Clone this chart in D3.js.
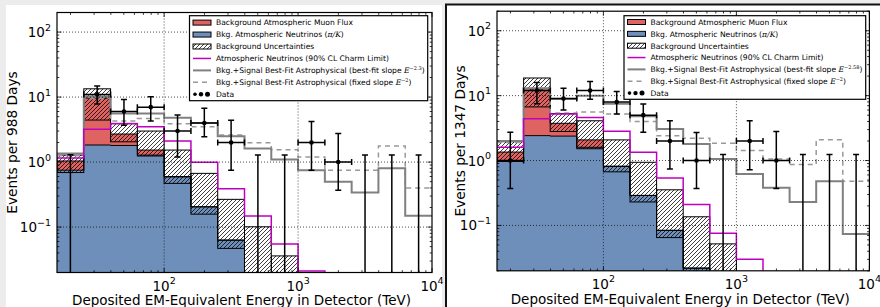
<!DOCTYPE html>
<html>
<head>
<meta charset="utf-8">
<script src="https://cdn.jsdelivr.net/npm/d3@7"></script>
<style>
body { margin: 0; background: #ececec; }
svg { display: block; font-family: "DejaVu Sans", sans-serif; }
</style>
</head>
<body>
<svg id="chart" width="880" height="307"></svg>
<script>
// energy bin edges (TeV), 0.2 decades wide
var binEdges = [15.85, 25.12, 39.81, 63.10, 100, 158.5, 251.2, 398.1, 631.0, 1000, 1585, 2512, 3981, 6310, 10000];
var xMajor = [100, 1000, 10000];
var yMajor = [0.1, 1, 10, 100];

// --- 988 days ---
var nu988     = [0.75, 1.83, 1.80, 1.28, 0.59, 0.205, 0.063, 0.012, 0.004, 0, 0, 0, 0, 0];
var mu988     = [0.29, 7.82, 0.90, 0.25, 0.01, 0, 0, 0, 0, 0, 0, 0, 0, 0];
var uncLo988  = [0.69, 4.43, 2.05, 1.24, 0.47, 0.158, 0.047, 0.008, 0.003, 0, 0, 0, 0, 0];
var uncHi988  = [1.28, 13.4, 3.94, 3.0, 1.53, 0.67, 0.267, 0.101, 0.036, 0, 0, 0, 0, 0];
var charm988  = [1.15, 3.2, 3.9, 3.5, 2.1, 0.99, 0.39, 0.148, 0.055, 0.021, 0, 0, 0, 0];
var fit988    = [1.36, 10.2, 5.6, 5.6, 4.8, 4.0, 2.5, 1.62, 1.1, 0.75, 0.50, 0.34, 0.80, 0.149];
var fixed988  = [1.25, 9.5, 4.3, 4.7, 3.9, 3.5, 2.6, 1.98, 1.55, 1.2, 0.75, 0.75, 1.76, 0.40];
var data988   = [0, 11, 6, 7, 3, 4, 2, 0, 0, 2, 1, 0, 0, 0];
var errHi988  = [1.3, 14.8, 9.2, 10.1, 5.3, 6.7, 4.4, 1.28, 1.28, 4.2, 2.76, 1.28, 1.28, 1.28];
var errLo988  = [0, 7.8, 3.7, 4.3, 1.2, 2.45, 0.75, 0, 0, 0.75, 0.37, 0, 0, 0];

// --- 1347 days ---
var nu1347    = [0.98, 2.42, 2.38, 1.6, 0.81, 0.29, 0.084, 0.022, 0.008, 0, 0, 0, 0, 0];
var mu1347    = [0.37, 10.2, 1.37, 0.48, 0.01, 0, 0, 0, 0, 0, 0, 0, 0, 0];
var uncLo1347 = [0.97, 6.7, 2.8, 1.52, 0.67, 0.23, 0.065, 0.019, 0.006, 0, 0, 0, 0, 0];
var uncHi1347 = [1.95, 18.7, 5.3, 4.1, 2.08, 0.94, 0.354, 0.136, 0.052, 0, 0, 0, 0, 0];
var charm1347 = [1.6, 4.4, 5.2, 4.6, 2.82, 1.34, 0.54, 0.21, 0.076, 0.030, 0, 0, 0, 0];
var fit1347   = [2.0, 13, 8.9, 10, 7.5, 4.8, 3.07, 1.8, 1.06, 0.62, 0.38, 0.23, 0.48, 0.074];
var fixed1347 = [1.9, 12.5, 5.4, 5.6, 5.2, 4.0, 2.4, 2.2, 1.85, 1.43, 1.06, 0.87, 2.1, 0.48];
var data1347  = [1, 12, 9, 12, 8, 5, 2, 1, 0, 2, 1, 0, 0, 0];
var errHi1347 = [2.73, 16, 13, 16.5, 11.6, 7.45, 4.1, 2.7, 1.24, 4.1, 2.8, 1.24, 1.24, 1.24];
var errLo1347 = [0.37, 7.5, 6.0, 8.8, 5.2, 2.73, 0.74, 0.37, 0, 0.72, 0.37, 0, 0, 0];

var legend988 = [
  "Background Atmospheric Muon Flux",
  "Bkg. Atmospheric Neutrinos (π/K)",
  "Background Uncertainties",
  "Atmospheric Neutrinos (90% CL Charm Limit)",
  "Bkg.+Signal Best-Fit Astrophysical (best-fit slope E^{−2.3})",
  "Bkg.+Signal Best-Fit Astrophysical (fixed slope E^{−2})",
  "Data"
];
var legend1347 = [
  "Background Atmospheric Muon Flux",
  "Bkg. Atmospheric Neutrinos (π/K)",
  "Background Uncertainties",
  "Atmospheric Neutrinos (90% CL Charm Limit)",
  "Bkg.+Signal Best-Fit Astrophysical (best-fit slope E^{−2.58})",
  "Bkg.+Signal Best-Fit Astrophysical (fixed slope E^{−2})",
  "Data"
];

var BLUE = "#6e8fba", RED = "#df6461", MAG = "#bf00bf";

var svg = d3.select("#chart");
var defs = svg.append("defs");
defs.append("pattern")
  .attr("id", "hatch")
  .attr("patternUnits", "userSpaceOnUse")
  .attr("width", 4).attr("height", 4)
  .append("path")
  .attr("d", "M-1,1 l2,-2 M0,4 l4,-4 M3,5 l2,-2")
  .attr("stroke", "#000").attr("stroke-width", 0.75);

// figure backgrounds
svg.append("rect").attr("width", 880).attr("height", 307).attr("fill", "#ececec");
svg.append("rect").attr("x", 6).attr("y", 5).attr("width", 436).attr("height", 302).attr("fill", "#fff");
svg.append("rect").attr("x", 445).attr("y", 3.5).attr("width", 435).attr("height", 304).attr("fill", "#111");
svg.append("rect").attr("x", 447).attr("y", 5.5).attr("width", 433).attr("height", 302).attr("fill", "#fff");

function richText(sel, str) {
  var parts = str.split(/(E\^\{[^}]*\}|π\/K)/);
  var pendingDy = 0;
  parts.forEach(function(part) {
    if (!part) return;
    var t;
    if (part === "π/K") {
      t = sel.append("tspan").attr("font-family", "DejaVu Serif").attr("font-style", "italic").text(part);
    } else if (part.indexOf("E^") === 0) {
      sel.append("tspan").attr("font-family", "DejaVu Serif").attr("font-style", "italic").text("E");
      sel.append("tspan").attr("dy", -3).attr("font-size", 5).attr("font-family", "DejaVu Serif")
        .text(part.slice(3, -1));
      pendingDy = 3;
      return;
    } else {
      t = sel.append("tspan").text(part);
    }
    if (pendingDy) { t.attr("dy", pendingDy); pendingDy = 0; }
  });
}

function drawPanel(p) {
  var x = d3.scaleLog().domain([binEdges[0], binEdges[binEdges.length - 1]]).range([p.left, p.right]);
  var y = d3.scaleLog().domain([0.02, 200]).range([p.bottom, p.top]);
  var below = p.bottom + 40;
  function yv(v) { return v > 0 ? y(v) : below; }

  defs.append("clipPath").attr("id", "clip" + p.id)
    .append("rect")
    .attr("x", p.left).attr("y", p.top)
    .attr("width", p.right - p.left).attr("height", p.bottom - p.top);

  var g = svg.append("g");
  var plot = g.append("g").attr("clip-path", "url(#clip" + p.id + ")");

  var total = p.nu.map(function(v, i) { return v + p.mu[i]; });

  function steps(vals) {
    var pts = [];
    vals.forEach(function(v, i) {
      pts.push([x(binEdges[i]), yv(v)]);
      pts.push([x(binEdges[i + 1]), yv(v)]);
    });
    return pts;
  }
  function bandSteps(lo, hi) {
    var pts = [];
    lo.forEach(function(v, i) {
      pts.push([x(binEdges[i]), yv(v), yv(hi[i])]);
      pts.push([x(binEdges[i + 1]), yv(v), yv(hi[i])]);
    });
    return pts;
  }

  // stacked background: neutrinos then muons
  plot.append("path")
    .attr("d", d3.area().y0(below)(steps(p.nu)))
    .attr("fill", BLUE);
  plot.append("path")
    .attr("d", d3.area().x(function(d) { return d[0]; })
      .y0(function(d) { return d[1]; }).y1(function(d) { return d[2]; })(bandSteps(p.nu, total)))
    .attr("fill", RED);

  // uncertainty boxes
  plot.selectAll("rect.unc")
    .data(p.uncLo.map(function(lo, i) { return { i: i, lo: lo, hi: p.uncHi[i] }; })
      .filter(function(d) { return d.hi > 0; }))
    .enter().append("rect")
    .attr("class", "unc")
    .attr("x", function(d) { return x(binEdges[d.i]); })
    .attr("width", function(d) { return x(binEdges[d.i + 1]) - x(binEdges[d.i]); })
    .attr("y", function(d) { return y(d.hi); })
    .attr("height", function(d) { return yv(d.lo) - y(d.hi); })
    .attr("fill", "url(#hatch)")
    .attr("stroke", "#000").attr("stroke-width", 1);

  var line = d3.line();
  plot.append("path").attr("d", line(steps(p.nu)))
    .attr("fill", "none").attr("stroke", "#000").attr("stroke-width", 1);
  plot.append("path").attr("d", line(steps(total)))
    .attr("fill", "none").attr("stroke", "#000").attr("stroke-width", 1);

  // model curves
  plot.append("path").attr("d", line(steps(p.fixed)))
    .attr("fill", "none").attr("stroke", "#999").attr("stroke-width", 1.5)
    .attr("stroke-dasharray", "5,4");
  plot.append("path").attr("d", line(steps(p.fit)))
    .attr("fill", "none").attr("stroke", "#808080").attr("stroke-width", 2);
  plot.append("path").attr("d", line(steps(p.charm)))
    .attr("fill", "none").attr("stroke", MAG).attr("stroke-width", 1.5);

  // dotted grid
  xMajor.filter(function(v) { return v < 10000; }).forEach(function(v) {
    plot.append("line").attr("x1", x(v)).attr("x2", x(v)).attr("y1", p.top).attr("y2", p.bottom)
      .attr("stroke", "#000").attr("stroke-width", 0.7).attr("stroke-dasharray", "1,2");
  });
  yMajor.forEach(function(v) {
    plot.append("line").attr("x1", p.left).attr("x2", p.right).attr("y1", y(v)).attr("y2", y(v))
      .attr("stroke", "#000").attr("stroke-width", 0.7).attr("stroke-dasharray", "1,2");
  });

  // data points
  var dg = plot.append("g").attr("stroke", "#000").attr("stroke-width", 1.5);
  p.data.forEach(function(n, i) {
    var cx = x(Math.sqrt(binEdges[i] * binEdges[i + 1]));
    var yt = y(p.errHi[i]);
    var yb = p.errLo[i] > 0 ? y(p.errLo[i]) : below;
    dg.append("line").attr("x1", cx).attr("x2", cx).attr("y1", yt).attr("y2", yb);
    dg.append("line").attr("x1", cx - 3).attr("x2", cx + 3).attr("y1", yt).attr("y2", yt);
    if (n > 0) {
      var cy = y(n), xa = x(binEdges[i]), xb = x(binEdges[i + 1]);
      dg.append("line").attr("x1", cx - 3).attr("x2", cx + 3).attr("y1", yb).attr("y2", yb);
      dg.append("line").attr("x1", xa).attr("x2", xb).attr("y1", cy).attr("y2", cy);
      dg.append("line").attr("x1", xa).attr("x2", xa).attr("y1", cy - 3).attr("y2", cy + 3);
      dg.append("line").attr("x1", xb).attr("x2", xb).attr("y1", cy - 3).attr("y2", cy + 3);
      dg.append("circle").attr("cx", cx).attr("cy", cy).attr("r", 2.3).attr("fill", "#000").attr("stroke", "none");
    }
  });

  // ticks on all four sides
  var tg = g.append("g").attr("stroke", "#000").attr("stroke-width", 0.8);
  x.ticks().forEach(function(v) {
    var major = Math.abs(Math.log10(v) - Math.round(Math.log10(v))) < 1e-6;
    var len = major ? 4.5 : 2.3, px = x(v);
    tg.append("line").attr("x1", px).attr("x2", px).attr("y1", p.bottom).attr("y2", p.bottom - len);
    tg.append("line").attr("x1", px).attr("x2", px).attr("y1", p.top).attr("y2", p.top + len);
  });
  y.ticks().forEach(function(v) {
    var major = Math.abs(Math.log10(v) - Math.round(Math.log10(v))) < 1e-6;
    var len = major ? 4.5 : 2.3, py = y(v);
    tg.append("line").attr("x1", p.left).attr("x2", p.left + len).attr("y1", py).attr("y2", py);
    tg.append("line").attr("x1", p.right).attr("x2", p.right - len).attr("y1", py).attr("y2", py);
  });

  g.append("rect").attr("x", p.left).attr("y", p.top)
    .attr("width", p.right - p.left).attr("height", p.bottom - p.top)
    .attr("fill", "none").attr("stroke", "#000").attr("stroke-width", 1.2);

  // tick labels
  function expo(v) { return String(Math.round(Math.log10(v))).replace("-", "\u2212"); }
  yMajor.forEach(function(v) {
    var t = g.append("text").attr("x", p.left - 6).attr("y", y(v) + 5)
      .attr("text-anchor", "end").attr("font-size", 13.5).attr("fill", "#000");
    t.append("tspan").text("10");
    t.append("tspan").attr("dy", -6.5).attr("font-size", 9.5).text(expo(v));
  });
  xMajor.forEach(function(v) {
    var t = g.append("text").attr("x", x(v)).attr("y", p.bottom + 18)
      .attr("text-anchor", "middle").attr("font-size", 13.5).attr("fill", "#000");
    t.append("tspan").text("10");
    t.append("tspan").attr("dy", -6.5).attr("font-size", 9.5).text(expo(v));
  });

  // axis labels
  g.append("text").attr("x", (p.left + p.right) / 2 - 3).attr("y", p.xLabelY)
    .attr("text-anchor", "middle").attr("font-size", 13.5).attr("fill", "#000")
    .text("Deposited EM-Equivalent Energy in Detector (TeV)");
  g.append("text")
    .attr("transform", "translate(" + p.yLabelX + "," + (p.top + p.bottom) / 2 + ") rotate(-90)")
    .attr("text-anchor", "middle").attr("font-size", 13.7).attr("fill", "#000")
    .text(p.yLabel);

  // legend
  var L = p.legend;
  var lg = g.append("g");
  lg.append("rect").attr("x", L.x).attr("y", L.y).attr("width", L.w).attr("height", L.h)
    .attr("fill", "#fff").attr("stroke", "#000").attr("stroke-width", 1.2);
  var hx = L.x + 3.5, hw = 18;
  p.legendLabels.forEach(function(label, i) {
    var ry = L.row0 + i * L.step;
    if (i === 0 || i === 1 || i === 2) {
      lg.append("rect").attr("x", hx).attr("y", ry - 2.5).attr("width", hw).attr("height", 5)
        .attr("fill", i === 0 ? RED : i === 1 ? BLUE : "url(#hatch)")
        .attr("stroke", "#000").attr("stroke-width", 1);
    } else if (i === 3) {
      lg.append("line").attr("x1", hx).attr("x2", hx + hw).attr("y1", ry).attr("y2", ry)
        .attr("stroke", MAG).attr("stroke-width", 1.5);
    } else if (i === 4) {
      lg.append("line").attr("x1", hx).attr("x2", hx + hw).attr("y1", ry).attr("y2", ry)
        .attr("stroke", "#808080").attr("stroke-width", 2);
    } else if (i === 5) {
      lg.append("line").attr("x1", hx).attr("x2", hx + hw).attr("y1", ry).attr("y2", ry)
        .attr("stroke", "#999").attr("stroke-width", 1.5).attr("stroke-dasharray", "5,4");
    } else {
      [[hx + 2, 1.8], [hx + 8, 2.2], [hx + 14.5, 2.5]].forEach(function(c) {
        lg.append("circle").attr("cx", c[0]).attr("cy", ry).attr("r", c[1]).attr("fill", "#000");
      });
    }
    var t = lg.append("text").attr("x", L.x + 26.5).attr("y", ry + 2.8)
      .attr("font-size", 7.6).attr("fill", "#000");
    richText(t, label);
  });
}

drawPanel({
  id: "a", left: 57, right: 432, top: 12.5, bottom: 272.5,
  nu: nu988, mu: mu988, uncLo: uncLo988, uncHi: uncHi988,
  charm: charm988, fit: fit988, fixed: fixed988,
  data: data988, errHi: errHi988, errLo: errLo988,
  yLabel: "Events per 988 Days", yLabelX: 17, xLabelY: 305,
  legendLabels: legend988,
  legend: { x: 189.5, y: 15.7, w: 238.2, h: 85, row0: 22.6, step: 11.95 }
});

drawPanel({
  id: "b", left: 497, right: 869.4, top: 11.2, bottom: 270.8,
  nu: nu1347, mu: mu1347, uncLo: uncLo1347, uncHi: uncHi1347,
  charm: charm1347, fit: fit1347, fixed: fixed1347,
  data: data1347, errHi: errHi1347, errLo: errLo1347,
  yLabel: "Events per 1347 Days", yLabelX: 465, xLabelY: 304,
  legendLabels: legend1347,
  legend: { x: 624, y: 15.7, w: 241.7, h: 83.6, row0: 22, step: 11.85 }
});
</script>
</body>
</html>
